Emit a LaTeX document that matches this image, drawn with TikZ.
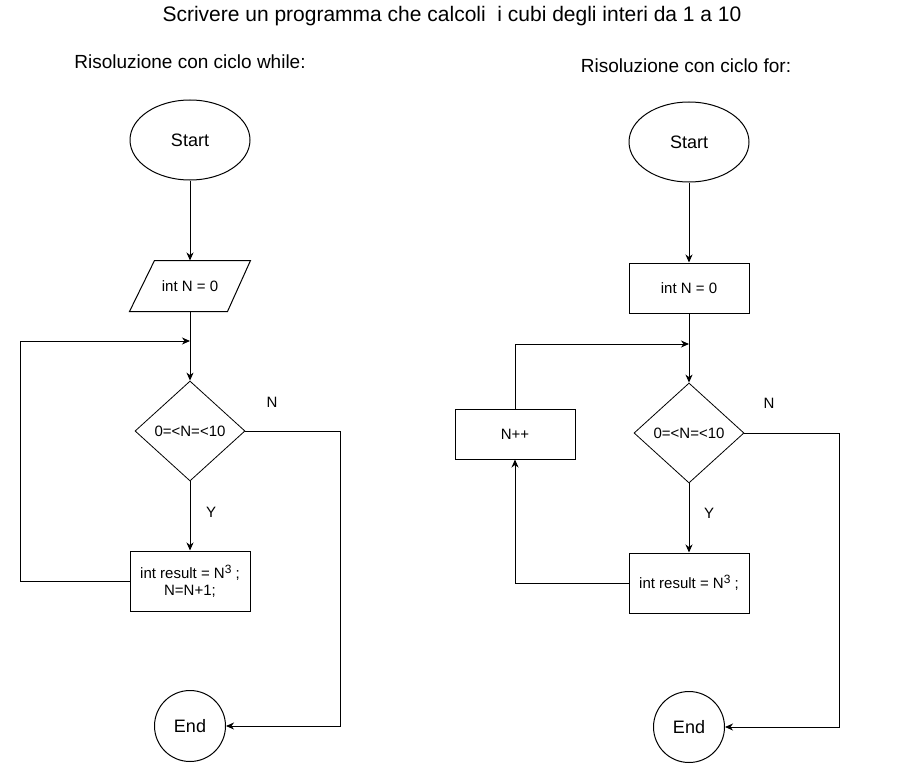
\documentclass[tikz,border=0pt]{standalone}
\usepackage{fontspec}
\setmainfont{Liberation Sans}
\usetikzlibrary{shapes.geometric,arrows.meta}
\newcommand{\cubesup}{\raisebox{5pt}{\fontsize{12}{12}\selectfont 3}}
\tikzset{
  base/.style={draw=black, line width=1pt, inner sep=0pt, font=\fontsize{15}{17}\selectfont, align=center},
  term/.style={base, ellipse, minimum width=120pt, minimum height=80pt, font=\fontsize{18}{20}\selectfont},
  endc/.style={base, circle, minimum size=71pt, font=\fontsize{18}{20}\selectfont},
  proc/.style={base, rectangle, minimum width=120pt},
  iobox/.style={base, draw=none, rectangle, minimum width=120pt, minimum height=50pt},
  cond/.style={base, diamond, line width=0.8pt, minimum width=110pt, minimum height=100pt},
  lbl/.style={inner sep=0pt, font=\fontsize{15}{17}\selectfont},
  ttl/.style={inner sep=0pt, font=\fontsize{19}{21}\selectfont},
  wire/.style={line width=1pt},
  arr/.style={wire, -{Stealth[length=8pt,width=7pt,inset=2.5pt]}}
}
\begin{document}
\begin{tikzpicture}[x=1pt,y=-1pt]
\useasboundingbox (0,0) rectangle (901,765);
% titles
\node[inner sep=0pt, font=\fontsize{21}{23}\selectfont] (title) at (452,16) {Scrivere un programma che calcoli\ \ i cubi degli interi da 1 a 10};
\node[ttl] (t1) at (190,62) {Risoluzione con ciclo while:};
\node[ttl] (t2) at (686,66) {Risoluzione con ciclo for:};
% left: while
\node[term] (s1) at (190,140) {Start};
\node[iobox] (p1) at (190,286) {int N = 0};
\draw[wire, line join=miter] (p1.south west) -- ([xshift=25pt]p1.north west) -- (p1.north east) -- ([xshift=-23pt]p1.south east) -- cycle;
\node[cond] (d1) at (190,431) {0=<N=<10};
\node[proc, minimum height=60pt] (r1) at (190,581) {int result = N\cubesup{} ;\\N=N+1;};
\node[endc] (e1) at (190,726) {End};
\coordinate (j1) at (190,341);
\coordinate (l1) at (20,341);
\coordinate (c1) at (340,726);
\node[lbl] (n1) at (272,402) {N};
\node[lbl] (y1) at (211,512) {Y};
\draw[arr] (s1) -- (p1);
\draw[arr] (p1.south) -- (d1.north);
\draw[arr] (d1.south) -- (r1.north);
\draw[arr] (r1.west) -- (r1.west -| l1) -- (l1) -- (j1);
\draw[arr] (d1.east) -| (c1) -- (e1.east);
% right: for
\node[term] (s2) at (689,142) {Start};
\node[proc, minimum height=50pt] (p2) at (689,288) {int N = 0};
\node[cond] (d2) at (689,433) {0=<N=<10};
\node[proc, minimum height=60pt] (r2) at (689,583) {int result = N\cubesup{} ;};
\node[proc, minimum height=50pt] (k2) at (515,434) {N++};
\node[endc] (e2) at (689,727) {End};
\coordinate (j2) at (689,344);
\coordinate (c2) at (839,727);
\node[lbl] (n2) at (769,403) {N};
\node[lbl] (y2) at (709,513) {Y};
\draw[arr] (s2) -- (p2);
\draw[arr] (p2.south) -- (d2.north);
\draw[arr] (d2.south) -- (r2.north);
\draw[arr] (r2.west) -| (k2.south);
\draw[arr] (k2.north) |- (j2);
\draw[arr] (d2.east) -| (c2) -- (e2.east);
\end{tikzpicture}
\end{document}
